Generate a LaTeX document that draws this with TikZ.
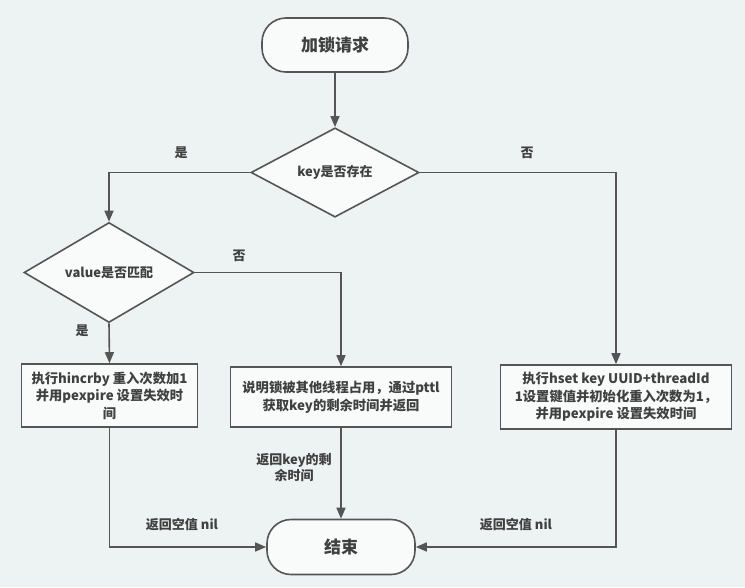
\documentclass[tikz,border=0pt]{standalone}
\usepackage{fontspec}
\setmainfont{Noto Sans CJK SC}
\usepackage{xcolor}
\usepackage{tikz}
\usetikzlibrary{shapes,arrows.meta,positioning}
\definecolor{bgcol}{HTML}{EDF2F2}
\definecolor{linecol}{HTML}{555555}
\definecolor{txtcol}{HTML}{404040}
\definecolor{boxcol}{HTML}{F9FBFB}
\tikzstyle{term} = [rectangle, rounded corners=24pt, draw=linecol, line width=1.6pt, fill=boxcol, text=txtcol, minimum width=146pt, minimum height=54pt, font=\fontsize{17}{20}\selectfont\bfseries]
\tikzstyle{decision} = [diamond, draw=linecol, line width=1.6pt, fill=boxcol, text=txtcol, inner sep=0pt, font=\fontsize{13}{15}\selectfont\bfseries]
\tikzstyle{proc} = [rectangle, draw=linecol, line width=1.6pt, fill=boxcol, text=txtcol, align=center, inner sep=2pt, font=\fontsize{13.3}{17.5}\selectfont\bfseries]
\tikzstyle{lbl} = [text=txtcol, align=center, inner sep=0pt, font=\fontsize{13}{16}\selectfont\bfseries]
\tikzstyle{arrow} = [line width=1.6pt, draw=linecol, -{Triangle[length=11pt,width=9pt]}]

\begin{document}
\begin{tikzpicture}[x=1pt, y=-1pt]
    \useasboundingbox (0,0) rectangle (745,587);
    \fill[bgcol] (0,0) rectangle (745,587);
    % nodes
    \node[term] (start) at (335,45) {加锁请求};
    \node[decision, minimum width=168pt, minimum height=80pt] (q1) at (335,172.5) {key是否存在};
    \node[decision, minimum width=170pt, minimum height=72pt] (q2) at (109,272.5) {value是否匹配};
    \node[proc, minimum width=176pt, minimum height=63pt] (box1) at (109.5,395.5) {执行hincrby 重入次数加1\\并用pexpire 设置失效时\\间};
    \node[proc, minimum width=221pt, minimum height=60pt] (box2) at (341,397) {说明锁被其他线程占用，通过pttl\\获取key的剩余时间并返回};
    \node[proc, minimum width=231pt, minimum height=64pt] (box3) at (616,397) {执行hset key UUID+threadId\\1设置键值并初始化重入次数为1，\\并用pexpire 设置失效时间};
    \node[term, minimum width=148pt, minimum height=55pt] (end) at (341,547) {结束};
    % labels
    \node[lbl] (yes1) at (181,153) {是};
    \node[lbl] (no1) at (527,153) {否};
    \node[lbl] (no2) at (239,256) {否};
    \node[lbl] (yes2) at (82,331) {是};
    \node[lbl] (ret1) at (182,525) {返回空值 nil};
    \node[lbl] (ret2) at (294,468) {返回key的剩\\余时间};
    \node[lbl] (ret3) at (516,525) {返回空值 nil};
    % connectors
    \draw[arrow] (start) -- (q1);
    \draw[arrow] (q1.west) -| (q2.north);
    \draw[arrow] (q1.east) -| (box3.north);
    \draw[arrow] (q2.east) -| (box2.north);
    \draw[arrow] (q2.south) -- (box1.north);
    \draw[arrow] (box1.south) |- (end.west);
    \draw[arrow] (box2.south) -- (end.north);
    \draw[arrow] (box3.south) |- (end.east);
\end{tikzpicture}
\end{document}
